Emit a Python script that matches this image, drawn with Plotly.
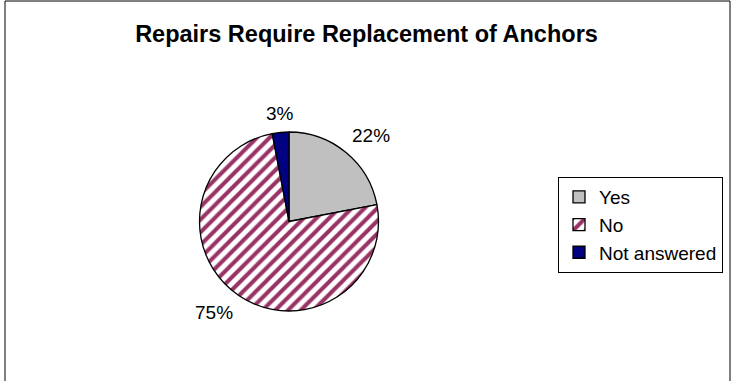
import math
import plotly.graph_objects as go

labels = ["Yes", "No", "Not answered"]
values = [22, 75, 3]
colors = ["#C0C0C0", "#FFFFFF", "#000080"]
patterns = ["", "/", ""]
title = "Repairs Require Replacement of Anchors"

W, H = 733, 381
cx, cy, r = 289, 221.5, 89.5
FONT = "Liberation Sans, Arial"

fig = go.Figure()
fig.add_trace(go.Pie(
    labels=labels, values=values, sort=False, direction="clockwise", rotation=0,
    marker=dict(colors=colors, line=dict(color="black", width=1.3),
                pattern=dict(shape=patterns, fgcolor="#993366", bgcolor="white",
                             size=9, solidity=0.45)),
    textinfo="none",
    domain=dict(x=[(cx - r) / W, (cx + r) / W],
                y=[(H - cy - r) / H, (H - cy + r) / H]),
    showlegend=True,
))

# percentage labels outside each slice, placed from the data's slice angles
total = sum(values)
cum = 0
gap = 6
annotations = []
for v in values:
    mid = (cum + v / 2) / total * 2 * math.pi
    cum += v
    s, c = math.sin(mid), math.cos(mid)
    px = cx + (r + gap) * s
    py = cy - (r + gap) * c
    xa = "left" if s > 0.3 else ("right" if s < -0.3 else "center")
    ya = "bottom" if c > 0.3 else ("top" if c < -0.3 else "middle")
    annotations.append(dict(
        x=px / W, y=1 - py / H, xref="paper", yref="paper", showarrow=False,
        text=f"{round(v / total * 100)}%", xanchor=xa, yanchor=ya,
        font=dict(family=FONT, size=19, color="black")))

fig.update_layout(
    width=W, height=H, margin=dict(l=0, r=0, t=0, b=0),
    paper_bgcolor="white", plot_bgcolor="white",
    title=dict(text="<b>" + title + "</b>", x=0.5, xanchor="center", y=1 - 34 / H, yanchor="middle",
               font=dict(family=FONT, size=23.5, color="black")),
    legend=dict(x=558 / W, y=1 - 177 / H, xanchor="left", yanchor="top",
                bordercolor="black", borderwidth=1, bgcolor="white",
                font=dict(family=FONT, size=19, color="black"),
                itemwidth=30, tracegroupgap=0),
    annotations=annotations,
    shapes=[dict(type="rect", xref="paper", yref="paper", x0=5 / W, x1=730 / W, y0=-0.01, y1=1 - 1 / H,
                 line=dict(color="black", width=1))],
)
fig.write_html("out.html", config={"displayModeBar": False},
               post_script="document.body.style.margin='0';document.body.style.overflow='hidden';")
